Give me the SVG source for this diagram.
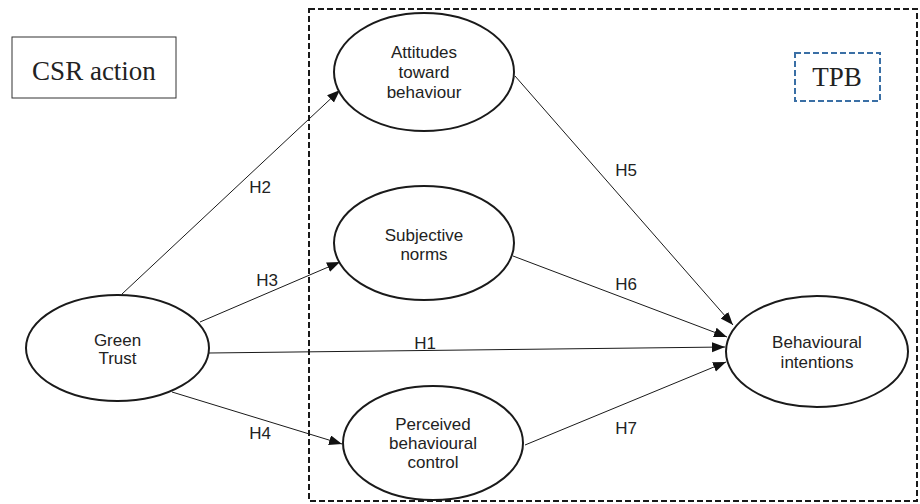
<svg xmlns="http://www.w3.org/2000/svg" width="920" height="504" viewBox="0 0 920 504">
<defs>
<marker id="arr" markerUnits="userSpaceOnUse" markerWidth="14" markerHeight="12" refX="13" refY="5" orient="auto">
<path d="M0,0 L13,5 L0,10 z" fill="#111"/>
</marker>
<style>
.ell{fill:#fff;stroke:#1a1a1a;stroke-width:2}
.lbl{font-family:"Liberation Sans",Arial,sans-serif;font-size:17px;fill:#222;text-anchor:middle}
.ser{font-family:"Liberation Serif","Times New Roman",serif;font-size:27px;fill:#222;text-anchor:middle}
.con{stroke:#1a1a1a;stroke-width:1;fill:none;marker-end:url(#arr)}
.h{font-family:"Liberation Sans",Arial,sans-serif;font-size:17px;fill:#222;text-anchor:middle}
</style>
</defs>
<rect width="920" height="504" fill="#fff"/>
<g id="tpb-frame">
<rect x="309" y="9" width="608" height="492" fill="none" stroke="#1a1a1a" stroke-width="2" stroke-dasharray="6,3"/>
</g>
<g id="csr-action">
<rect x="12" y="37" width="164" height="61" fill="#fff" stroke="#333" stroke-width="1"/>
<text class="ser" x="94" y="80">CSR action</text>
</g>
<g id="tpb-label">
<rect x="795" y="53" width="85" height="48" fill="none" stroke="#3a6fa5" stroke-width="2" stroke-dasharray="6,3"/>
<text class="ser" x="837" y="86">TPB</text>
</g>
<g id="connectors">
<line class="con" x1="122" y1="294" x2="340" y2="90"/>
<line class="con" x1="200" y1="322" x2="340" y2="262"/>
<line class="con" x1="209" y1="353" x2="725" y2="347"/>
<line class="con" x1="172" y1="392" x2="342" y2="444"/>
<line class="con" x1="515" y1="76" x2="733" y2="325"/>
<line class="con" x1="513" y1="256" x2="727" y2="337"/>
<line class="con" x1="525" y1="445" x2="726" y2="362"/>
<text class="h" x="260" y="193">H2</text>
<text class="h" x="267" y="286">H3</text>
<text class="h" x="425" y="349">H1</text>
<text class="h" x="260" y="439">H4</text>
<text class="h" x="626" y="176">H5</text>
<text class="h" x="626" y="290">H6</text>
<text class="h" x="626" y="434">H7</text>
</g>
<g id="attitudes">
<ellipse class="ell" cx="424" cy="72" rx="90" ry="59"/>
<text class="lbl" x="424" y="58">Attitudes</text>
<text class="lbl" x="424" y="78">toward</text>
<text class="lbl" x="424" y="98">behaviour</text>
</g>
<g id="subjective-norms">
<ellipse class="ell" cx="424" cy="243" rx="90" ry="57"/>
<text class="lbl" x="424" y="241">Subjective</text>
<text class="lbl" x="424" y="260">norms</text>
</g>
<g id="green-trust">
<ellipse class="ell" cx="117.5" cy="348" rx="91.5" ry="53"/>
<text class="lbl" x="117.5" y="346">Green</text>
<text class="lbl" x="117.5" y="364">Trust</text>
</g>
<g id="perceived-behavioural-control">
<ellipse class="ell" cx="433" cy="443" rx="90" ry="57"/>
<text class="lbl" x="433" y="430">Perceived</text>
<text class="lbl" x="433" y="449">behavioural</text>
<text class="lbl" x="433" y="468">control</text>
</g>
<g id="behavioural-intentions">
<ellipse class="ell" cx="817" cy="351.5" rx="91" ry="55.5"/>
<text class="lbl" x="817" y="348">Behavioural</text>
<text class="lbl" x="817" y="368">intentions</text>
</g>
</svg>
